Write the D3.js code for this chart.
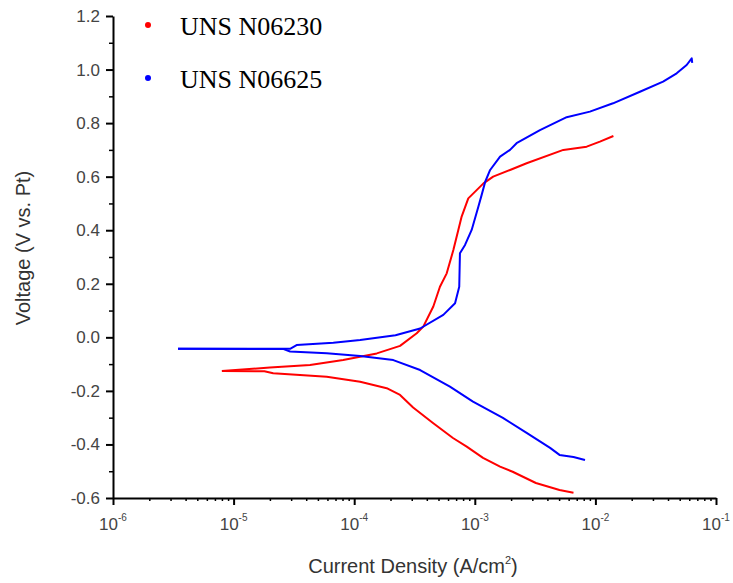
<!DOCTYPE html>
<html>
<head>
<meta charset="utf-8">
<script src="https://cdn.jsdelivr.net/npm/d3@7"></script>
<style>
  body { margin: 0; background: #fff; }
  text { font-family: "Liberation Sans", Arial, sans-serif; }
</style>
</head>
<body>
<div id="chart"></div>
<script>
// Polarization curves: [current density (A/cm2), voltage (V vs. Pt)]
const n06230Anodic = [
  [8.0e-6, -0.126], [2.0e-5, -0.113], [4.3e-5, -0.103], [8.1e-5, -0.085],
  [1.54e-4, -0.060], [2.4e-4, -0.032], [3.3e-4, 0.015], [3.74e-4, 0.040],
  [4.53e-4, 0.115], [5.14e-4, 0.189], [5.85e-4, 0.239], [6.64e-4, 0.326],
  [7.3e-4, 0.401], [7.78e-4, 0.451], [8.83e-4, 0.519], [1.18e-3, 0.575],
  [1.42e-3, 0.600], [1.96e-3, 0.625], [2.69e-3, 0.650], [5.42e-3, 0.700],
  [8.47e-3, 0.712], [1.09e-2, 0.731], [1.41e-2, 0.752]
];
const n06230Cathodic = [
  [8.0e-6, -0.126], [1.8e-5, -0.127], [2.13e-5, -0.134], [5.92e-5, -0.147],
  [1.12e-4, -0.166], [1.86e-4, -0.190], [2.4e-4, -0.215], [3.08e-4, -0.262],
  [4.5e-4, -0.320], [6.59e-4, -0.376], [8.57e-4, -0.408], [1.17e-3, -0.450],
  [1.62e-3, -0.483], [2.06e-3, -0.502], [3.21e-3, -0.544], [5.04e-3, -0.570],
  [6.58e-3, -0.580]
];
const n06625Anodic = [
  [3.46e-6, -0.043], [2.94e-5, -0.043], [3.33e-5, -0.029], [6.71e-5, -0.020],
  [1.12e-4, -0.010], [2.2e-4, 0.008], [3.52e-4, 0.033], [5.48e-4, 0.084],
  [6.86e-4, 0.127], [7.43e-4, 0.189], [7.53e-4, 0.314], [8.3e-4, 0.345],
  [9.42e-4, 0.401], [1.07e-3, 0.488], [1.14e-3, 0.532], [1.22e-3, 0.581],
  [1.34e-3, 0.625], [1.62e-3, 0.675], [1.96e-3, 0.700], [2.22e-3, 0.725],
  [3.47e-3, 0.774], [5.78e-3, 0.822], [9.0e-3, 0.843], [1.4e-2, 0.874],
  [2.34e-2, 0.917], [3.64e-2, 0.955], [4.72e-2, 0.986], [5.71e-2, 1.017],
  [6.29e-2, 1.042], [6.35e-2, 1.025]
];
const n06625Cathodic = [
  [3.46e-6, -0.043], [2.6e-5, -0.044], [2.94e-5, -0.053], [5.92e-5, -0.059],
  [1.12e-4, -0.070], [2.11e-4, -0.085], [3.52e-4, -0.122], [6.22e-4, -0.184],
  [9.66e-4, -0.240], [1.71e-3, -0.301], [2.69e-3, -0.357], [4.21e-3, -0.413],
  [5.04e-3, -0.439], [6.58e-3, -0.447], [8.2e-3, -0.458]
];

const seriesNames = ['UNS N06230', 'UNS N06625'];
const seriesColors = ['#ff0000', '#0000ff'];
const xTickExponents = [-6, -5, -4, -3, -2, -1];
const yTicks = [-0.6, -0.4, -0.2, 0.0, 0.2, 0.4, 0.6, 0.8, 1.0, 1.2];
const yMinorTicks = [-0.5, -0.3, -0.1, 0.1, 0.3, 0.5, 0.7, 0.9, 1.1];

const width = 733, height = 583;
const margin = { top: 16, right: 17, bottom: 85, left: 113 };

const x = d3.scaleLog()
  .domain([1e-6, 1e-1])
  .range([margin.left, width - margin.right]);

const y = d3.scaleLinear()
  .domain([-0.6, 1.2])
  .range([height - margin.bottom, margin.top]);

const svg = d3.select('#chart')
  .append('svg')
  .attr('width', width)
  .attr('height', height);

// minor x ticks (2..9 of each decade)
const xMinor = [];
xTickExponents.slice(0, -1).forEach(e => {
  for (let k = 2; k <= 9; k++) xMinor.push(k * Math.pow(10, e));
});

svg.append('g')
  .attr('transform', `translate(0,${y(-0.6)})`)
  .call(d3.axisBottom(x).tickValues(xMinor).tickSize(3).tickFormat(''))
  .call(g => g.select('.domain').remove())
  .selectAll('line').attr('stroke-width', 1.5);

const xAxis = svg.append('g')
  .attr('transform', `translate(0,${y(-0.6)})`)
  .call(d3.axisBottom(x)
    .tickValues(xTickExponents.map(e => Math.pow(10, e)))
    .tickSize(7).tickSizeOuter(0).tickFormat(''));
xAxis.select('.domain').attr('stroke-width', 2);
xAxis.selectAll('line').attr('stroke-width', 2);

// x tick labels with superscripts
const xLabels = svg.append('g');
xTickExponents.forEach(e => {
  const t = xLabels.append('text')
    .attr('x', x(Math.pow(10, e)))
    .attr('y', 530)
    .attr('text-anchor', 'middle')
    .attr('fill', '#444')
    .style('font-size', '17px');
  t.append('tspan').text('10');
  t.append('tspan').attr('dy', -9).style('font-size', '10px').text(String(e));
});

// y axis
svg.append('g')
  .attr('transform', `translate(${margin.left},0)`)
  .call(d3.axisLeft(y).tickValues(yMinorTicks).tickSize(4).tickFormat(''))
  .call(g => g.select('.domain').remove())
  .selectAll('line').attr('stroke-width', 1.5);

const yAxis = svg.append('g')
  .attr('transform', `translate(${margin.left},0)`)
  .call(d3.axisLeft(y).tickValues(yTicks).tickSize(7).tickSizeOuter(0)
    .tickFormat(d => d.toFixed(1)));
yAxis.select('.domain').attr('stroke-width', 2);
yAxis.selectAll('line').attr('stroke-width', 2);
yAxis.selectAll('text')
  .attr('x', -13)
  .attr('fill', '#444')
  .style('font-size', '17px')
  .style('font-family', '"Liberation Sans", Arial, sans-serif');

// axis titles
svg.append('text')
  .attr('x', 413)
  .attr('y', 573)
  .attr('text-anchor', 'middle')
  .attr('fill', '#333')
  .style('font-size', '20px')
  .call(t => {
    t.append('tspan').text('Current Density (A/cm');
    t.append('tspan').attr('dy', -9).style('font-size', '11px').text('2');
    t.append('tspan').attr('dy', 9).text(')');
  });

svg.append('text')
  .attr('transform', 'translate(30,248) rotate(-90)')
  .attr('text-anchor', 'middle')
  .attr('fill', '#333')
  .style('font-size', '20px')
  .text('Voltage (V vs. Pt)');

// curves
const line = d3.line()
  .x(d => x(d[0]))
  .y(d => y(d[1]));

const curves = [
  { data: n06230Anodic, color: seriesColors[0] },
  { data: n06230Cathodic, color: seriesColors[0] },
  { data: n06625Anodic, color: seriesColors[1] },
  { data: n06625Cathodic, color: seriesColors[1] }
];

svg.selectAll('.curve')
  .data(curves)
  .enter()
  .append('path')
  .attr('class', 'curve')
  .attr('d', d => line(d.data))
  .attr('fill', 'none')
  .attr('stroke', d => d.color)
  .attr('stroke-width', 2)
  .attr('stroke-linejoin', 'round');

// legend
const legend = svg.append('g');
seriesNames.forEach((name, i) => {
  const cy = 25 + i * 53;
  legend.append('circle')
    .attr('cx', 148)
    .attr('cy', cy)
    .attr('r', 3)
    .attr('fill', seriesColors[i]);
  legend.append('text')
    .attr('x', 180)
    .attr('y', cy + 10)
    .attr('fill', '#000')
    .style('font-family', '"Liberation Serif", "Times New Roman", serif')
    .style('font-size', '26px')
    .text(name);
});
</script>
</body>
</html>
